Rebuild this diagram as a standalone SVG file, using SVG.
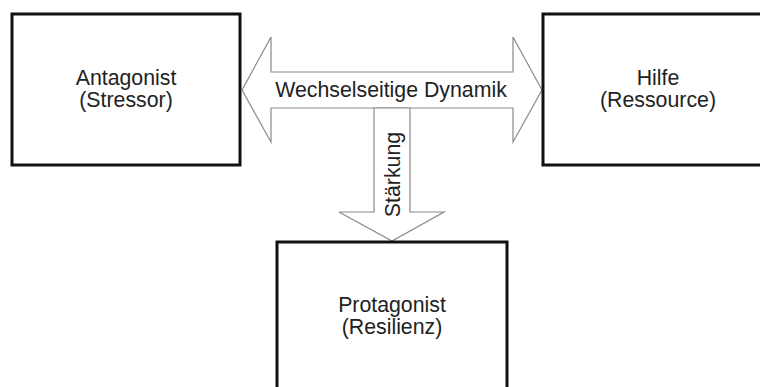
<svg xmlns="http://www.w3.org/2000/svg" width="760" height="387" viewBox="0 0 760 387">
<style>
.box{fill:#fff;stroke:#111;stroke-width:3}
.arr{fill:#fff;stroke:#8a8a8a;stroke-width:1.2;stroke-linejoin:miter}
.t{font-family:"Liberation Sans",Arial,sans-serif;font-size:21.3px;fill:#222;text-anchor:middle}
</style>
<rect width="760" height="387" fill="#fff"/>
<g id="connectors">
<polygon class="arr" points="242,90 271,37 271,72 513,72 513,37 542,90 513,142 513,108 271,108 271,142"/>
<polygon class="arr" points="374,108 410,108 410,212 444,212 392,241 339,212 374,212"/>
<text class="t" x="391" y="96.5">Wechselseitige Dynamik</text>
<text class="t" transform="translate(400,174.5) rotate(-90)" x="0" y="0">Stärkung</text>
</g>
<g id="antagonist">
<rect class="box" x="12" y="14" width="228" height="151"/>
<text class="t" x="126" y="84.5">Antagonist</text>
<text class="t" x="126" y="107">(Stressor)</text>
</g>
<g id="hilfe">
<rect class="box" x="543" y="14" width="230" height="151"/>
<text class="t" x="658" y="84.5">Hilfe</text>
<text class="t" x="658" y="107">(Ressource)</text>
</g>
<g id="protagonist">
<rect class="box" x="277" y="242" width="230" height="160"/>
<text class="t" x="392" y="311.5">Protagonist</text>
<text class="t" x="392" y="334">(Resilienz)</text>
</g>
</svg>
